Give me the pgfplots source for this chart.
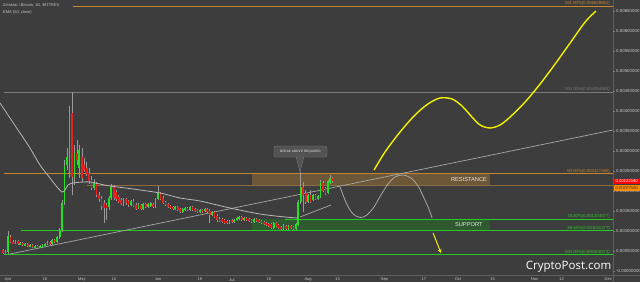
\documentclass[border=0pt]{standalone}
\usepackage{fontspec}
\setmainfont{Liberation Sans}
\newfontfamily\wmfont{Open Sans}
\usepackage{pgfplots}
\pgfplotsset{compat=1.18}
\usepackage{pgfplotstable}
\usetikzlibrary{arrows.meta}
\definecolor{bgc}{HTML}{3D3D3D}
\definecolor{fibor}{HTML}{C8862C}
\definecolor{fibgray}{HTML}{7C7C7C}
\definecolor{brownl}{HTML}{8C6C40}
\definecolor{resfill}{HTML}{6C5838}
\definecolor{supfill}{HTML}{2F5A2F}
\definecolor{fibgreen}{HTML}{22CC22}
\definecolor{cgreen}{HTML}{22E022}
\definecolor{cred}{HTML}{E82020}
\definecolor{wick}{HTML}{9A9A9A}
\definecolor{emac}{HTML}{B8B8B8}
\definecolor{trendc}{HTML}{A8A8A8}
\definecolor{yel}{HTML}{F2F200}
\definecolor{tickc}{HTML}{C8C8C8}
\definecolor{axisc}{HTML}{5E5E5E}
\definecolor{calloutf}{HTML}{525252}
\newcommand{\sz}[1]{\fontsize{#1}{#1}\selectfont}

\pgfplotstableread{
d o h l c
-2 0.000525 0.000550 0.000425 0.000450
-1 0.000450 0.000525 0.000425 0.000475
0 0.000475 0.001000 0.000425 0.000875
1 0.000850 0.000900 0.000700 0.000725
2 0.000725 0.000775 0.000675 0.000700
3 0.000700 0.000775 0.000675 0.000750
4 0.000750 0.000775 0.000650 0.000675
5 0.000675 0.000725 0.000650 0.000700
6 0.000700 0.000725 0.000625 0.000650
7 0.000650 0.000700 0.000625 0.000675
8 0.000675 0.000700 0.000600 0.000625
9 0.000625 0.000675 0.000600 0.000650
10 0.000650 0.000675 0.000575 0.000600
11 0.000600 0.000650 0.000575 0.000625
12 0.000625 0.000650 0.000575 0.000600
13 0.000600 0.000650 0.000575 0.000625
14 0.000625 0.000675 0.000600 0.000650
15 0.000650 0.000700 0.000625 0.000675
16 0.000675 0.000750 0.000650 0.000725
17 0.000725 0.000750 0.000650 0.000675
18 0.000675 0.000800 0.000650 0.000775
19 0.000775 0.000800 0.000700 0.000725
20 0.000725 0.000875 0.000700 0.000850
21 0.000850 0.001075 0.000800 0.001025
22 0.001025 0.001775 0.000975 0.001700
23 0.001725 0.002775 0.001650 0.002625
24 0.002650 0.003075 0.002525 0.002850
25 0.002400 0.004125 0.002325 0.003950
26 0.003950 0.004475 0.001900 0.002350
27 0.002350 0.003150 0.002150 0.002950
28 0.002950 0.003275 0.002650 0.002775
29 0.002575 0.003150 0.002325 0.003025
30 0.002850 0.003075 0.002225 0.002325
31 0.002650 0.002825 0.002475 0.002525
32 0.002575 0.002725 0.002375 0.002425
33 0.002450 0.002575 0.002175 0.002250
34 0.002275 0.002375 0.002025 0.002075
35 0.002075 0.002300 0.002025 0.002200
36 0.002175 0.002225 0.001850 0.001900
37 0.001900 0.001975 0.001725 0.001800
38 0.001800 0.001875 0.001525 0.001625
39 0.001700 0.001775 0.001200 0.001575
40 0.001650 0.001700 0.001275 0.001575
41 0.001600 0.001875 0.001525 0.001825
42 0.001825 0.002175 0.001775 0.002100
43 0.002100 0.002150 0.001775 0.001825
44 0.001975 0.002025 0.001750 0.001800
45 0.001850 0.001900 0.001700 0.001725
46 0.001775 0.001825 0.001650 0.001675
47 0.001675 0.001825 0.001625 0.001800
48 0.001800 0.001825 0.001650 0.001700
49 0.001750 0.001775 0.001600 0.001650
50 0.001650 0.001775 0.001625 0.001750
51 0.001750 0.001800 0.001600 0.001625
52 0.001650 0.001700 0.001525 0.001550
53 0.001575 0.001700 0.001550 0.001650
54 0.001650 0.001675 0.001525 0.001550
55 0.001550 0.001700 0.001525 0.001675
56 0.001675 0.001700 0.001575 0.001600
57 0.001600 0.001700 0.001575 0.001675
58 0.001625 0.001725 0.001600 0.001700
59 0.001675 0.001700 0.001575 0.001600
60 0.001600 0.001825 0.001575 0.001800
61 0.001800 0.002125 0.001775 0.001950
62 0.001950 0.001975 0.001775 0.001800
63 0.001825 0.001875 0.001675 0.001700
64 0.001725 0.001750 0.001625 0.001650
65 0.001675 0.001700 0.001575 0.001600
66 0.001625 0.001650 0.001550 0.001575
67 0.001600 0.001625 0.001525 0.001550
68 0.001550 0.001625 0.001525 0.001600
69 0.001600 0.001625 0.001500 0.001525
70 0.001550 0.001575 0.001450 0.001475
71 0.001475 0.001575 0.001450 0.001550
72 0.001525 0.001600 0.001500 0.001575
73 0.001575 0.001600 0.001500 0.001525
74 0.001525 0.001625 0.001500 0.001600
75 0.001600 0.001625 0.001500 0.001525
76 0.001550 0.001575 0.001475 0.001500
77 0.001525 0.001550 0.001450 0.001475
78 0.001475 0.001550 0.001450 0.001525
79 0.001525 0.001550 0.001450 0.001475
80 0.001500 0.001575 0.001475 0.001550
81 0.001550 0.001575 0.001450 0.001475
82 0.001500 0.001550 0.001200 0.001400
83 0.001400 0.001500 0.001375 0.001475
84 0.001475 0.001500 0.001325 0.001350
85 0.001375 0.001425 0.001225 0.001275
86 0.001300 0.001350 0.001225 0.001250
87 0.001300 0.001325 0.001200 0.001225
88 0.001275 0.001300 0.001175 0.001200
89 0.001250 0.001275 0.001175 0.001200
90 0.001200 0.001275 0.001175 0.001250
91 0.001275 0.001300 0.001200 0.001225
92 0.001225 0.001300 0.001200 0.001275
93 0.001275 0.001350 0.001250 0.001325
94 0.001300 0.001375 0.001275 0.001350
95 0.001350 0.001375 0.001250 0.001275
96 0.001275 0.001350 0.001250 0.001325
97 0.001325 0.001350 0.001250 0.001275
98 0.001300 0.001325 0.001225 0.001250
99 0.001275 0.001300 0.001200 0.001225
100 0.001225 0.001325 0.001200 0.001300
101 0.001300 0.001325 0.001225 0.001250
102 0.001275 0.001300 0.001200 0.001225
103 0.001250 0.001275 0.001175 0.001200
104 0.001225 0.001250 0.001150 0.001175
105 0.001200 0.001225 0.001125 0.001150
106 0.001175 0.001200 0.001100 0.001125
107 0.001175 0.001200 0.001050 0.001075
108 0.001075 0.001225 0.001050 0.001200
109 0.001200 0.001225 0.001100 0.001125
110 0.001150 0.001175 0.001050 0.001075
111 0.001100 0.001125 0.001025 0.001050
112 0.001050 0.001175 0.001025 0.001150
113 0.001125 0.001150 0.001025 0.001050
114 0.001050 0.001150 0.001025 0.001125
115 0.001125 0.001150 0.001050 0.001075
116 0.001100 0.001125 0.001025 0.001050
117 0.001050 0.001200 0.001025 0.001175
118 0.001150 0.001775 0.001125 0.001725
119 0.001725 0.002475 0.001675 0.002100
120 0.002100 0.002225 0.001475 0.001900
121 0.001950 0.002025 0.001675 0.001725
122 0.001725 0.001925 0.001700 0.001900
123 0.001900 0.002025 0.001700 0.001725
124 0.001775 0.001925 0.001750 0.001900
125 0.001900 0.001925 0.001775 0.001800
126 0.001800 0.001900 0.001775 0.001875
127 0.001850 0.002275 0.001825 0.002225
128 0.002200 0.002250 0.001975 0.002000
129 0.002075 0.002100 0.001900 0.001925
130 0.001950 0.002275 0.001925 0.002250
131 0.002200 0.002400 0.002175 0.002325
132 0.002325 0.002350 0.002200 0.002250
}\candles

\begin{document}
\begin{tikzpicture}[x=1pt,y=1pt]
\useasboundingbox (0,0) rectangle (640,282);
\fill[bgc] (0,0) rectangle (640,282);
\draw[axisc, line width=0.6pt] (613,0) -- (613,282);
\draw[axisc, line width=0.6pt] (0,7) -- (640,7);
\node[anchor=west, text=tickc, inner sep=0] at (3,276.5) {\sz{4}Zclassic / Bitcoin, 1D, BITTREX};
\node[anchor=west, text=tickc, inner sep=0] at (3,270) {\sz{4}EMA (50, close)};
\begin{axis}[at={(0pt,7pt)}, anchor=south west, scale only axis,
  width=613pt, height=275pt,
  xmin=-3.252, xmax=245.93, ymin=-0.0001, ymax=0.006775,
  clip=false, axis line style={draw=none},
  ytick pos=right, yticklabel pos=right, xtick pos=bottom,
  ytick={0,0.0005,0.001,0.0015,0.002,0.0025,0.003,0.0035,0.004,0.0045,0.005,0.0055,0.006,0.0065},
  yticklabels={-0.00000000,0.00050000,0.00100000,0.00150000,0.00200000,0.00250000,0.00300000,0.00350000,0.00400000,0.00450000,0.00500000,0.00550000,0.00600000,0.00650000},
  xtick={0,15,30,43,61,78,91,106,122,134,153,169,183,197,214,225,244},
  xticklabels={Apr,16,May,14,Jun,18,Jul,16,Aug,13,Sep,17,Oct,15,Nov,12,Dec},
  tick align=outside, major tick length=2pt,
  ytick style={draw=fibgray, line width=0.4pt},
  xtick style={draw=none},
  yticklabel style={text=tickc, font=\sz{4.4}, inner sep=1pt},
  xticklabel style={text=tickc, font=\sz{4}, inner sep=1pt},
  scaled y ticks=false,
]
% zones
\fill[resfill] (axis cs:99.2,0.0024275) rectangle (axis cs:195.9,0.0021375);
\fill[supfill] (axis cs:99.2,0.0013) rectangle (axis cs:195.9,0.00101);
% fib lines
\addplot[fibor, line width=0.9pt, forget plot] coordinates {(26.4,0.006625) (245.93,0.006625)};
\addplot[fibgray, line width=0.8pt, forget plot] coordinates {(-1.6,0.00447) (245.93,0.00447)};
\addplot[fibor, line width=0.9pt, forget plot] coordinates {(-1.6,0.0024275) (245.93,0.0024275)};
\addplot[brownl, line width=0.8pt, forget plot] coordinates {(32.1,0.0021375) (245.93,0.0021375)};
\addplot[fibgreen, line width=0.9pt, forget plot] coordinates {(112.6,0.0013) (245.93,0.0013)};
\addplot[fibgreen, line width=0.9pt, forget plot] coordinates {(5.3,0.00101) (245.93,0.00101)};
\addplot[fibgreen, line width=0.9pt, forget plot] coordinates {(-1.6,0.00041) (245.93,0.00041)};
% fib labels
\node[anchor=south east, inner sep=0.4pt, text=fibor] at (axis cs:244.9,0.006625) {\sz{4.3}161.80\%(0.006628862)};
\node[anchor=south east, inner sep=0.4pt, text=fibgray] at (axis cs:244.9,0.00447) {\sz{4.3}100.00\%(0.004454863)};
\node[anchor=south east, inner sep=0.4pt, text=fibor] at (axis cs:244.9,0.0024275) {\sz{4.3}50.00\%(0.002427490)};
\node[anchor=south east, inner sep=0.4pt, text=fibgreen] at (axis cs:244.9,0.0013) {\sz{4.3}78.60\%(0.001304577)};
\node[anchor=south east, inner sep=0.4pt, text=fibgreen] at (axis cs:244.9,0.00101) {\sz{4.3}88.60\%(0.001011277)};
\node[anchor=south east, inner sep=0.4pt, text=fibgreen] at (axis cs:244.9,0.00041) {\sz{4.3}100.00\%(0.000400271)};
% zone labels
\node[text=white!85!resfill, inner sep=0] at (axis cs:187.4,0.002285) {\sz{5.7}RESISTANCE};
\node[text=white!85!supfill, inner sep=0] at (axis cs:187.3,0.001167) {\sz{5.7}SUPPORT};
% trendline
\addplot[trendc, line width=0.7pt, forget plot] coordinates {(0.81,0.000425) (245.93,0.003525)};
% wicks
\addplot[draw=none, no marks, forget plot,
  error bars/.cd, y dir=both, y explicit, error mark=none,
  error bar style={line width=0.55pt, draw=wick, solid}]
  table[x=d, y expr={(\thisrow{h}+\thisrow{l})/2}, y error expr={(\thisrow{h}-\thisrow{l})/2}] {\candles};
% green bodies
\addplot[draw=none, no marks, forget plot,
  restrict expr to domain={\thisrow{c}-\thisrow{o}}{0:1},
  error bars/.cd, y dir=both, y explicit, error mark=none,
  error bar style={line width=1.7pt, draw=cgreen, solid}]
  table[x=d, y expr={(\thisrow{o}+\thisrow{c})/2}, y error expr={abs(\thisrow{c}-\thisrow{o})/2}] {\candles};
% red bodies
\addplot[draw=none, no marks, forget plot,
  restrict expr to domain={\thisrow{c}-\thisrow{o}}{-1:0},
  error bars/.cd, y dir=both, y explicit, error mark=none,
  error bar style={line width=1.7pt, draw=cred, solid}]
  table[x=d, y expr={(\thisrow{o}+\thisrow{c})/2}, y error expr={abs(\thisrow{c}-\thisrow{o})/2}] {\candles};
% EMA 50
\addplot[emac, line width=0.8pt, smooth, forget plot] coordinates {
(-3.25,0.0042) (0.81,0.003825) (4.88,0.00345) (8.94,0.003075) (13.0,0.00265)
(17.07,0.002325) (19.92,0.0021) (21.95,0.001975) (23.17,0.002025) (24.39,0.00215)
(26.42,0.0022) (30.49,0.002225) (33.33,0.002225) (37.4,0.002175) (41.46,0.002125)
(50.81,0.00205) (61.79,0.00195) (69.92,0.001825) (78.05,0.00175) (90.24,0.001575)
(102.44,0.001425) (112.6,0.00135) (117.9,0.001325)};
\addplot[trendc, line width=0.7pt, forget plot] coordinates {(118.7,0.00135) (131.3,0.00165)};
% projections
\addplot[trendc, line width=0.8pt, smooth, forget plot] coordinates {
(134.96,0.0021) (137.0,0.001775) (139.0,0.001525) (141.06,0.0013875) (143.5,0.0013375)
(145.9,0.0014) (148.78,0.0016) (151.6,0.0019) (154.5,0.002175) (157.3,0.00235)
(160.6,0.0024) (163.8,0.002325) (166.67,0.002125) (169.1,0.001825) (171.1,0.00155) (172.4,0.001325)};
\addplot[yel, line width=1.4pt, smooth, forget plot] coordinates {
(148.8,0.002525) (153.25,0.002975) (159.35,0.003475) (165.45,0.0039) (170.7,0.004175)
(175.6,0.004325) (180.5,0.0043) (184.55,0.004125) (188.6,0.00385) (191.9,0.00365)
(195.9,0.003575) (200,0.00365) (204.1,0.00385) (210.2,0.004225) (216.3,0.004675)
(222.4,0.005175) (228.5,0.0057) (234.6,0.006225) (239,0.0065)};
\draw[yel, line width=1pt, -{Stealth[length=4pt,width=4pt]}] (axis cs:172.8,0.00095) -- (axis cs:176.0,0.00045);
% callout
\fill[calloutf, draw=fibgray, line width=0.4pt] (axis cs:117.1,0.00287) -- (axis cs:118.7,0.00248) -- (axis cs:120.3,0.00287);
\node[fill=calloutf, draw=fibgray, line width=0.4pt, rounded corners=2pt, minimum width=53pt, minimum height=11pt, inner sep=0, text=white!90!black] at (axis cs:118.9,0.0029875) {\sz{3.2}BREAK ABOVE REQUIRED};
% watermark
\node[anchor=base east, text=white, inner sep=0] at (axis cs:245.3,0.00003) {\wmfont\sz{11.5}CryptoPost.com};
% price tags
\node[anchor=west, fill=red, text=white, inner sep=0.5pt, minimum height=5.4pt, minimum width=26pt] at (axis cs:246.1,0.00224) {\sz{4.2}0.00222580};
\node[anchor=west, fill=orange!90!yellow, text=black!80, inner sep=0.5pt, minimum height=5.4pt, minimum width=26pt] at (axis cs:246.1,0.00208) {\sz{4.2}0.00207500};
\end{axis}
\end{tikzpicture}
\end{document}
